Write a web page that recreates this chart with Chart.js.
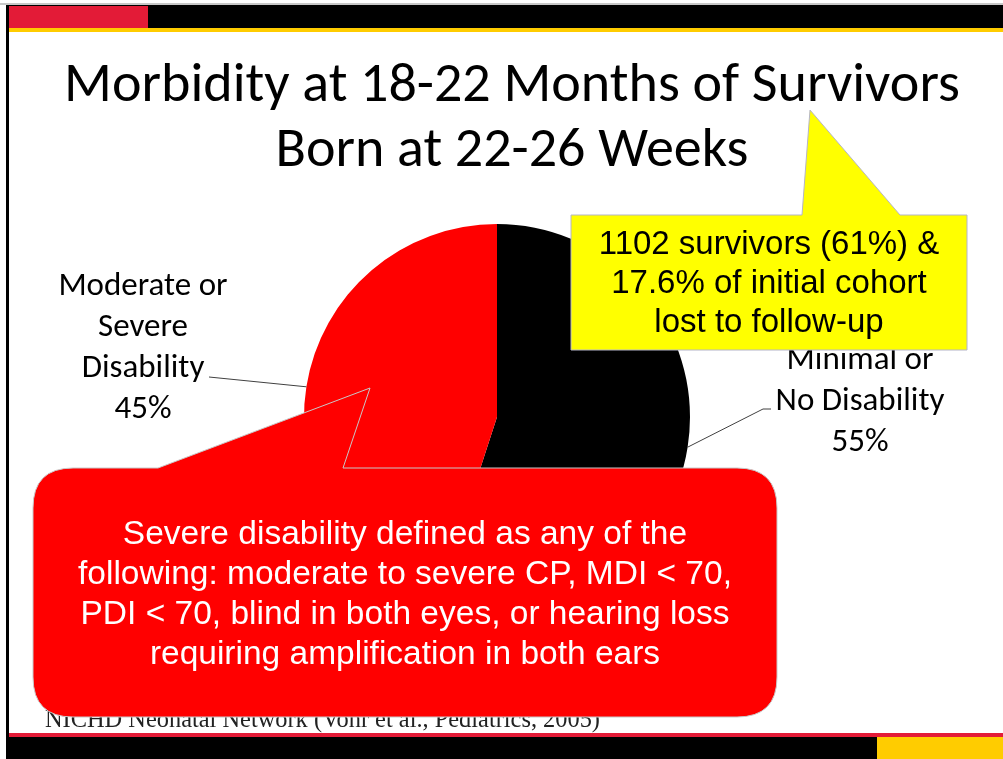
<!DOCTYPE html>
<html>
<head>
<meta charset="utf-8">
<script src="https://cdn.jsdelivr.net/npm/chart.js@4"></script>
<style>
  body { margin: 0; background: #fff; }
  #slide { position: relative; width: 1003px; height: 759px; overflow: hidden; background: #fff; }
  .bar { position: absolute; }
  #title { position: absolute; left: 12px; top: 50px; width: 1000px; text-align: center;
           font-family: Carlito, Calibri, Lato, sans-serif; font-size: 56px; line-height: 65px; color: #000; z-index: 2; }
  #pie { position: absolute; left: 0; top: 0; z-index: 1; }
  #footer { position: absolute; left: 45px; top: 705px; font-family: "Liberation Serif", "Times New Roman", serif;
            font-size: 24.4px; color: #222; z-index: 2; white-space: nowrap; }
  #shapes { position: absolute; left: 0; top: 0; z-index: 3; }
  .note { position: absolute; text-align: center; font-family: "Liberation Sans", Arial, sans-serif; z-index: 4; white-space: nowrap; }
</style>
</head>
<body>
<div id="slide">
  <div class="bar" style="left:0;top:3px;width:1003px;height:2px;background:#c8c8c8"></div>
  <div class="bar" style="left:6px;top:5px;width:997px;height:23px;background:#000"></div>
  <div class="bar" style="left:9px;top:6px;width:139px;height:22px;background:#e31b37"></div>
  <div class="bar" style="left:9px;top:28px;width:994px;height:4px;background:#ffcc00"></div>
  <div class="bar" style="left:6px;top:5px;width:3px;height:754px;background:#000"></div>
  <div class="bar" style="left:9px;top:733px;width:994px;height:4px;background:#e31b37"></div>
  <div class="bar" style="left:6px;top:737px;width:871px;height:22px;background:#000"></div>
  <div class="bar" style="left:877px;top:737px;width:126px;height:22px;background:#ffcc00"></div>

  <div id="title">Morbidity at 18-22 Months of Survivors<br>Born at 22-26 Weeks</div>

  <canvas id="pie" width="1003" height="759"></canvas>

  <div id="footer">NICHD Neonatal Network (Vohr et al., Pediatrics, 2005)</div>

  <svg id="shapes" width="1003" height="759">
    <path d="M571,215 L802,215 L810,110 L900,215 L967,215 L967,350 L571,350 Z"
          fill="#ffff00" stroke="#b4b4c8" stroke-width="1"/>
    <path d="M73,468 L158,468 L370,388 L343,468 L737,468 Q777,468 777,508 L777,677 Q777,717 737,717 L73,717 Q33,717 33,677 L33,508 Q33,468 73,468 Z"
          fill="#ff0000" stroke="#c8c8c8" stroke-width="1"/>
  </svg>

  <div class="note" style="left:571px;top:223px;width:396px;font-size:33px;line-height:39px;color:#000">
    1102 survivors (61%) &amp;<br>17.6% of initial cohort<br>lost to follow-up
  </div>
  <div class="note" style="left:33px;top:513px;width:744px;font-size:33.5px;line-height:40px;color:#fff">
    Severe disability defined as any of the<br>following: moderate to severe CP, MDI &lt; 70,<br>PDI &lt; 70, blind in both eyes, or hearing loss<br>requiring amplification in both ears
  </div>
</div>

<script>
var categories = ['Minimal or No Disability', 'Moderate or Severe Disability'];
var percents = [55, 45];
var labelLines = [['Minimal or', 'No Disability', '55%'], ['Moderate or', 'Severe', 'Disability', '45%']];
var colors = ['#000000', '#ff0000'];

// draws the outside labels with their leader lines
var pieLabels = {
  id: 'pieLabels',
  afterDatasetsDraw: function(chart) {
    var ctx = chart.ctx;
    var arcs = chart.getDatasetMeta(0).data;
    ctx.save();
    ctx.font = '33px Carlito, Calibri, Lato, sans-serif';
    ctx.fillStyle = '#000';
    ctx.strokeStyle = '#404040';
    ctx.lineWidth = 1;
    ctx.textAlign = 'center';
    ctx.textBaseline = 'middle';
    arcs.forEach(function(arc, i) {
      var mid = (arc.startAngle + arc.endAngle) / 2;
      var ex = arc.x + Math.cos(mid) * arc.outerRadius;
      var ey = arc.y + Math.sin(mid) * arc.outerRadius;
      var lines = labelLines[i];
      var tx, ty;
      ctx.beginPath();
      ctx.moveTo(ex, ey);
      if (i === 0) {
        ctx.lineTo(arc.x + 266, arc.y - 8);
        ctx.lineTo(arc.x + 274, arc.y - 8);
        tx = arc.x + 363; ty = arc.y - 56;
      } else {
        ctx.lineTo(arc.x - 288, arc.y - 40);
        tx = arc.x - 354; ty = arc.y - 130;
      }
      ctx.stroke();
      lines.forEach(function(t, j) {
        ctx.fillText(t, tx, ty + j * 41);
      });
    });
    ctx.restore();
  }
};

new Chart(document.getElementById('pie'), {
  type: 'pie',
  data: {
    labels: categories,
    datasets: [{
      data: percents,
      backgroundColor: colors,
      borderWidth: 0
    }]
  },
  options: {
    responsive: false,
    animation: false,
    layout: { padding: { left: 304, right: 313, top: 224, bottom: 149 } },
    plugins: {
      legend: { display: false },
      tooltip: { enabled: false }
    }
  },
  plugins: [pieLabels]
});
</script>
</body>
</html>
